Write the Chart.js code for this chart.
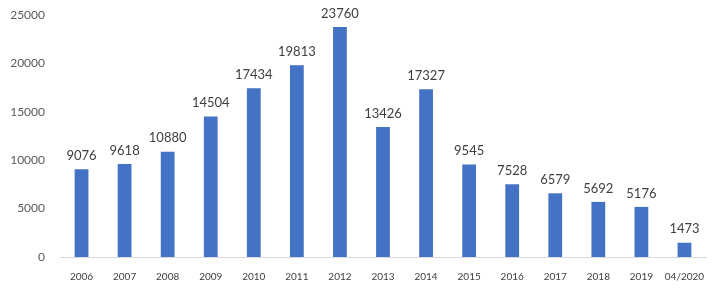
<!DOCTYPE html>
<html>
<head>
<meta charset="utf-8">
<script src="https://cdn.jsdelivr.net/npm/chart.js@4"></script>
<style>
  body { margin: 0; background: #fff; }
  #wrap { width: 718px; height: 288px; }
</style>
</head>
<body>
<div id="wrap"><canvas id="myChart"></canvas></div>
<script>
var years = ['2006', '2007', '2008', '2009', '2010', '2011', '2012', '2013', '2014', '2015', '2016', '2017', '2018', '2019', '04/2020'];
var counts = [9076, 9618, 10880, 14504, 17434, 19813, 23760, 13426, 17327, 9545, 7528, 6579, 5692, 5176, 1473];
var yTicks = [0, 5000, 10000, 15000, 20000, 25000];

// values above the bars
var barLabels = {
    id: 'barLabels',
    afterDatasetsDraw: function (chart) {
        var c = chart.ctx;
        var meta = chart.getDatasetMeta(0);
        c.save();
        c.fillStyle = '#404040';
        c.font = '13px Lato, "Liberation Sans", sans-serif';
        c.textAlign = 'center';
        c.textBaseline = 'bottom';
        meta.data.forEach(function (bar, i) {
            c.fillText(String(counts[i]), bar.x, bar.y - 7);
        });
        c.restore();
    }
};

var ctx = document.getElementById('myChart').getContext('2d');
var myChart = new Chart(ctx, {
    type: 'bar',
    data: {
        labels: years,
        datasets: [{
            data: counts,
            backgroundColor: '#4472C4',
            barPercentage: 0.32,
            categoryPercentage: 1
        }]
    },
    options: {
        responsive: true,
        maintainAspectRatio: false,
        animation: false,
        layout: { padding: { top: 15, right: 12, left: 0, bottom: 0 } },
        plugins: {
            legend: { display: false },
            tooltip: { enabled: false }
        },
        scales: {
            x: {
                grid: { display: false },
                border: { display: true, color: '#D9D9D9', width: 1 },
                ticks: {
                    color: '#404040',
                    font: { family: 'Lato, "Liberation Sans", sans-serif', size: 10 },
                    padding: 6,
                    maxRotation: 0,
                    autoSkip: false
                },
                afterFit: function (scale) { scale.height = 31; }
            },
            y: {
                min: 0,
                max: 25000,
                grid: { display: false, drawTicks: false },
                border: { display: false },
                afterBuildTicks: function (scale) {
                    scale.ticks = yTicks.map(function (v) { return { value: v }; });
                },
                ticks: {
                    color: '#595959',
                    font: { family: 'Lato, "Liberation Sans", sans-serif', size: 12 },
                    padding: 15,
                    callback: function (v) { return String(v); }
                },
                afterFit: function (scale) {
                    scale.width = 60;
                    scale.paddingTop = 0;
                    scale.paddingBottom = 0;
                }
            }
        }
    },
    plugins: [barLabels]
});
</script>
</body>
</html>
